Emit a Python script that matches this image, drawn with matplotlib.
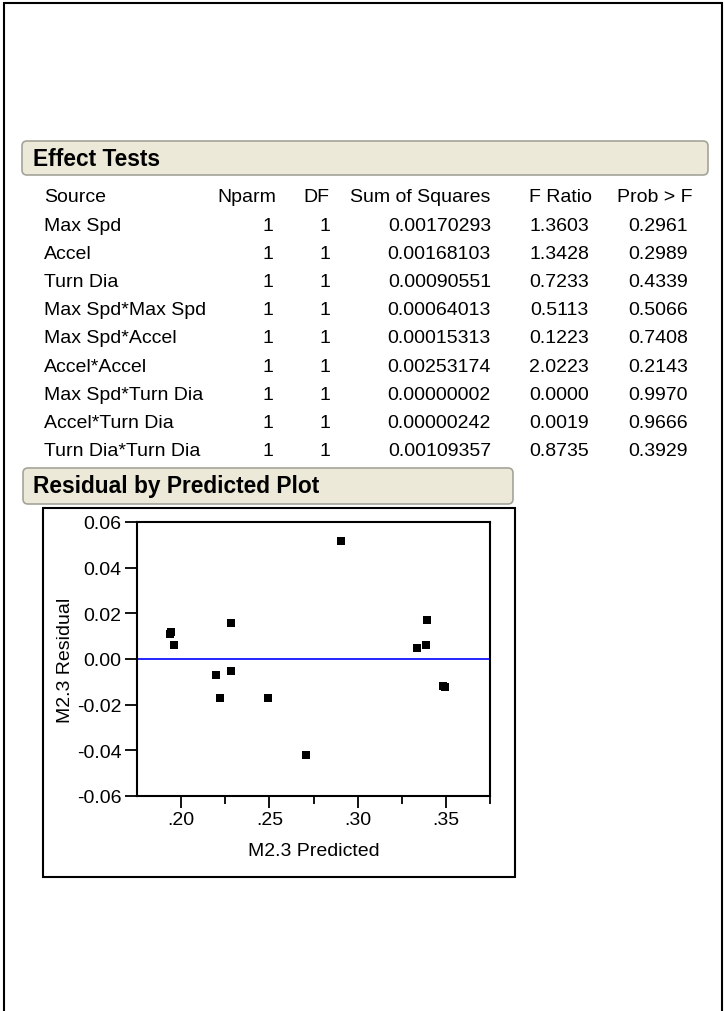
import numpy as np
import matplotlib
matplotlib.use("Agg")
import matplotlib.pyplot as plt
from matplotlib.patches import FancyBboxPatch, Rectangle
from matplotlib.ticker import FixedLocator, FuncFormatter

plt.rcParams['font.family'] = ['Liberation Sans', 'DejaVu Sans']
plt.rcParams['axes.unicode_minus'] = False

# ---------------- data ----------------
sources = ["Max Spd", "Accel", "Turn Dia", "Max Spd*Max Spd", "Max Spd*Accel",
           "Accel*Accel", "Max Spd*Turn Dia", "Accel*Turn Dia", "Turn Dia*Turn Dia"]
nparm   = [1, 1, 1, 1, 1, 1, 1, 1, 1]
dfree   = [1, 1, 1, 1, 1, 1, 1, 1, 1]
sumsq   = [0.00170293, 0.00168103, 0.00090551, 0.00064013, 0.00015313,
           0.00253174, 0.00000002, 0.00000242, 0.00109357]
fratio  = [1.3603, 1.3428, 0.7233, 0.5113, 0.1223, 2.0223, 0.0000, 0.0019, 0.8735]
probf   = [0.2961, 0.2989, 0.4339, 0.5066, 0.7408, 0.2143, 0.9970, 0.9666, 0.3929]

predicted = [0.1935, 0.1945, 0.1960, 0.2200, 0.2219, 0.2280, 0.2280, 0.2493,
             0.2710, 0.2903, 0.3334, 0.3385, 0.3394, 0.3485, 0.3495]
residual  = [0.0109, 0.0117, 0.0063, -0.0069, -0.0171, 0.0156, -0.0054, -0.0171,
             -0.0419, 0.0518, 0.0048, 0.0063, 0.0172, -0.0117, -0.0124]

W, H = 725, 1012
fig = plt.figure(figsize=(W/100, H/100), dpi=100)

# overlay in pixel units for the report chrome
bg = fig.add_axes([0, 0, 1, 1])
bg.set_xlim(0, W)
bg.set_ylim(H, 0)
bg.axis('off')

# page border (no bottom edge)
bg.plot([4, 4, 722, 722], [H, 4, 4, H], color='black', lw=1.5, solid_joinstyle='miter')

BAR_FACE = '#ECE9D8'
BAR_EDGE = '#A5A49A'
TXT = 14.0
HDR = 16.4

def header_bar(x0, y0, x1, y1, label):
    bg.add_patch(FancyBboxPatch((x0, y0), x1-x0, y1-y0,
                                boxstyle="round,pad=0,rounding_size=5",
                                facecolor=BAR_FACE, edgecolor=BAR_EDGE, lw=1.2))
    bg.text(33, (y0+y1)/2, label, fontsize=HDR, fontweight='bold',
            ha='left', va='center')

header_bar(22, 142, 708, 176, "Effect Tests")

# table
hdr_y = 197
row0, step = 226, 28.2
heads = [("Source", 44, 'left'), ("Nparm", 276, 'right'), ("DF", 329, 'right'),
         ("Sum of Squares", 490, 'right'), ("F Ratio", 592, 'right'),
         ("Prob > F", 693, 'right')]
for t, x, ha in heads:
    bg.text(x, hdr_y, t, fontsize=TXT, ha=ha, va='center')

for i in range(len(sources)):
    y = row0 + i*step
    bg.text(44, y, sources[i], fontsize=TXT, ha='left', va='center')
    bg.text(273, y, str(nparm[i]), fontsize=TXT, ha='right', va='center')
    bg.text(330, y, str(dfree[i]), fontsize=TXT, ha='right', va='center')
    bg.text(491, y, f"{sumsq[i]:.8f}", fontsize=TXT, ha='right', va='center')
    bg.text(589, y, f"{fratio[i]:.4f}", fontsize=TXT, ha='right', va='center')
    bg.text(688, y, f"{probf[i]:.4f}", fontsize=TXT, ha='right', va='center')

header_bar(23, 469, 513, 505, "Residual by Predicted Plot")

# frame around plot
bg.add_patch(Rectangle((43, 509), 515-43, 878-509, fill=False,
                       edgecolor='black', lw=1.5))

# ---------------- plot ----------------
ax = fig.add_axes([137/W, 1-797/H, (490-137)/W, (797-523)/H])
ax.plot(predicted, residual, 's', color='black', markersize=5.8, mew=0)
ax.axhline(0, color='#0000FF', lw=1.2, zorder=1)
ax.set_xlim(0.175, 0.375)
ax.set_ylim(-0.06, 0.06)
ax.xaxis.set_major_locator(FixedLocator([0.20, 0.25, 0.30, 0.35]))
ax.xaxis.set_minor_locator(FixedLocator([0.225, 0.275, 0.325, 0.375]))
ax.yaxis.set_major_locator(FixedLocator([-0.06, -0.04, -0.02, 0.0, 0.02, 0.04, 0.06]))
ax.xaxis.set_major_formatter(FuncFormatter(lambda v, p: f"{v:.2f}".lstrip('0')))
ax.yaxis.set_major_formatter(FuncFormatter(lambda v, p: f"{v:.2f}" if abs(v) > 1e-9 else "0.00"))
ax.tick_params(axis='both', which='major', direction='out', length=8.5, width=1.3,
               labelsize=TXT, pad=2.5, top=False, right=False)
ax.tick_params(axis='x', which='minor', direction='out', length=5.5, width=1.3)
for s in ax.spines.values():
    s.set_linewidth(1.5)
ax.set_xlabel("M2.3 Predicted", fontsize=TXT, va='center')
ax.xaxis.set_label_coords(0.5, -(851.7-797)/274)
ax.set_ylabel("M2.3 Residual", fontsize=TXT, va='center')
ax.yaxis.set_label_coords((65-137)/353, 0.5)

fig.savefig("out.png", dpi=100)
